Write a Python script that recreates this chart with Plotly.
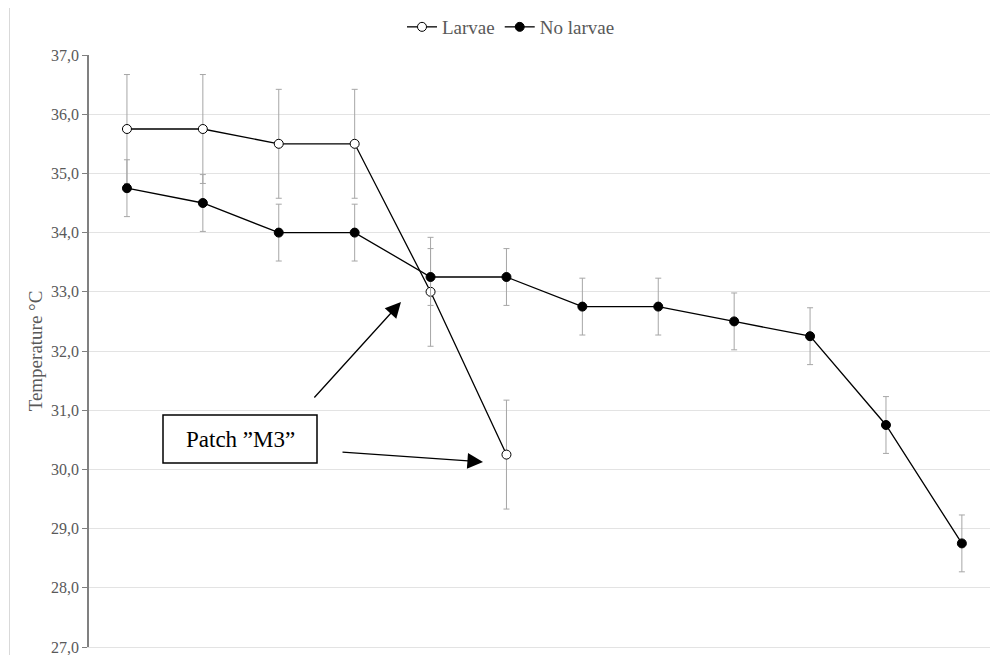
import plotly.graph_objects as go

# ---- data ----
categories = [1, 2, 3, 4, 5, 6, 7, 8, 9, 10, 11, 12]
larvae_x = [1, 2, 3, 4, 5, 6]
larvae = [35.75, 35.75, 35.5, 35.5, 33.0, 30.25]
larvae_err = [0.92, 0.92, 0.92, 0.92, 0.92, 0.92]
no_larvae = [34.75, 34.5, 34.0, 34.0, 33.25, 33.25, 32.75, 32.75, 32.5, 32.25, 30.75, 28.75]
no_larvae_err = [0.48, 0.48, 0.48, 0.48, 0.48, 0.48, 0.48, 0.48, 0.48, 0.48, 0.48, 0.48]
y_ticks = [27, 28, 29, 30, 31, 32, 33, 34, 35, 36, 37]

# page body has an 8px margin; geometry below is in window pixels
OFF = 8
WIN_W, WIN_H = 998, 655
W, H = WIN_W - OFF, WIN_H - OFF
PL, PR, PT, PB = 89, 998, 55, 647          # plot area edges in window px
L, T = PL - OFF, PT - OFF
R, B = (WIN_W - PR), (WIN_H - PB)
PW, PH = PR - PL, PB - PT


def px(x):
    return (x - PL) / PW


def py(y):
    return (PB - y) / PH


FONT = "Liberation Serif"
GREY_TXT = "#595959"
ERR_COL = "#a6a6a6"
GRID = "#e3e3e3"

fig = go.Figure()
fig.add_trace(go.Scatter(
    x=larvae_x, y=larvae, name="Larvae", mode="lines+markers",
    line=dict(color="black", width=1.3),
    marker=dict(symbol="circle", size=9, color="white", line=dict(color="black", width=1)),
    error_y=dict(type="data", array=larvae_err, color=ERR_COL, thickness=1, width=3),
))
fig.add_trace(go.Scatter(
    x=categories, y=no_larvae, name="No larvae", mode="lines+markers",
    line=dict(color="black", width=1.3),
    marker=dict(symbol="circle", size=9, color="black", line=dict(color="black", width=1)),
    error_y=dict(type="data", array=no_larvae_err, color=ERR_COL, thickness=1, width=3),
))

shapes = [
    # outer chart frame
    dict(type="rect", xref="paper", yref="paper",
         x0=px(9.5), x1=px(1010), y0=py(670), y1=py(6.5),
         line=dict(color="#d9d9d9", width=1), fillcolor="rgba(0,0,0,0)", layer="below"),
    # text box
    dict(type="rect", xref="paper", yref="paper",
         x0=px(163), x1=px(317), y0=py(463), y1=py(415),
         line=dict(color="black", width=1.5), fillcolor="white"),
]

annotations = [
    dict(xref="paper", yref="paper", x=px(240), y=py(439), text="Patch ”M3”",
         showarrow=False, font=dict(family=FONT, size=23, color="black"),
         xanchor="center", yanchor="middle"),
    dict(xref="paper", yref="paper", x=px(401), y=py(302), text="",
         showarrow=True, ax=313 - 401, ay=399 - 302, arrowhead=2, arrowsize=2.4,
         arrowwidth=1.3, arrowcolor="black", standoff=0),
    dict(xref="paper", yref="paper", x=px(483), y=py(462), text="",
         showarrow=True, ax=341 - 483, ay=452 - 462, arrowhead=2, arrowsize=2.4,
         arrowwidth=1.3, arrowcolor="black", standoff=0),
]

fig.update_layout(
    width=W, height=H,
    margin=dict(l=L, r=R, t=T, b=B, autoexpand=False),
    paper_bgcolor="white", plot_bgcolor="white",
    separators=",.",
    font=dict(family=FONT, color=GREY_TXT, size=16),
    showlegend=True,
    legend=dict(orientation="h", x=px(511), xanchor="center", y=py(27), yanchor="middle",
                font=dict(family=FONT, size=19, color=GREY_TXT),
                bgcolor="rgba(0,0,0,0)", itemwidth=30, tracegroupgap=0),
    shapes=shapes, annotations=annotations,
    xaxis=dict(range=[0.5, 12.476], showticklabels=False, showgrid=False,
               zeroline=False, showline=True, linecolor=GRID, linewidth=1,
               ticks="", automargin=False),
    yaxis=dict(range=[27, 37], tickvals=y_ticks, tickformat=".1f",
               showgrid=True, gridcolor=GRID, gridwidth=1,
               zeroline=False, showline=True, linecolor="#808080", linewidth=1.5,
               ticks="outside", ticklen=5, tickcolor="#808080", tickwidth=1,
               ticklabeloverflow="allow",
               tickfont=dict(family=FONT, size=16, color=GREY_TXT),
               title=dict(text="Temperature °C", standoff=3,
                          font=dict(family=FONT, size=19, color=GREY_TXT)),
               automargin=False),
)

fig.write_html("out.html")
